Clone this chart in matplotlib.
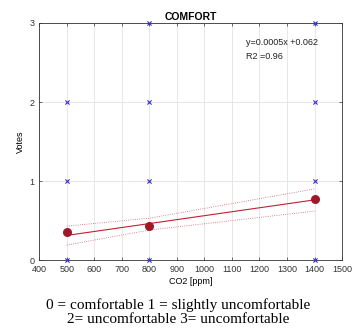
import numpy as np
import matplotlib
matplotlib.use('Agg')
import matplotlib.pyplot as plt

# votes per CO2 level (individual answers)
votes_x = [500, 500, 500, 800, 800, 800, 800, 1400, 1400, 1400, 1400]
votes_y = [0, 1, 2, 0, 1, 2, 3, 0, 1, 2, 3]

# mean votes
co2_levels = [500, 800, 1400]
mean_votes = [0.36, 0.43, 0.77]

# linear fit and confidence bounds
fit_slope = 0.0005
fit_icpt = 0.062
ci_upper = [0.43, 0.53, 0.90]
ci_lower = [0.19, 0.38, 0.62]

x_ticks = list(range(400, 1600, 100))
y_ticks = [0, 1, 2, 3]

plt.rcParams['font.family'] = ['Liberation Sans', 'DejaVu Sans']

fig = plt.figure(figsize=(3.56, 3.28), dpi=100)
ax = fig.add_axes([0.110, 0.207, 0.851, 0.723])

ax.grid(True, color='#e3e3e3', linewidth=0.6)
ax.set_axisbelow(True)

ax.scatter(votes_x, votes_y, marker='x', s=9, color='#3030d0', linewidths=0.8,
           zorder=3, clip_on=False)

fit_x = np.array([co2_levels[0], co2_levels[-1]])
ax.plot(fit_x, fit_slope * fit_x + fit_icpt, color='#c02030', linewidth=0.8, zorder=3)
ax.plot(co2_levels, ci_upper, color='#d06070', linestyle=':', linewidth=0.6, zorder=3)
ax.plot(co2_levels, ci_lower, color='#d06070', linestyle=':', linewidth=0.6, zorder=3)
ax.scatter(co2_levels, mean_votes, s=30, color='#a01828', zorder=4)

ax.set_xlim(400, 1500)
ax.set_ylim(0, 3)
ax.set_xticks(x_ticks)
ax.set_yticks(y_ticks)
ax.tick_params(direction='in', length=2.5, labelsize=6.5, colors='#333333',
               top=True, right=True, width=0.5)
for sp in ax.spines.values():
    sp.set_color('#333333')
    sp.set_linewidth(0.6)

ax.set_title('COMFORT', fontsize=7.5, fontweight='bold', pad=2)
ax.set_xlabel('CO2 [ppm]', fontsize=6.5, labelpad=2)
ax.set_ylabel('Votes', fontsize=6.5, labelpad=3)

ax.text(1150, 2.75, 'y=0.0005x +0.062', fontsize=6.5, color='#222222', va='center')
ax.text(1150, 2.58, 'R2 =0.96', fontsize=6.5, color='#222222', va='center')

fig.text(0.5, 0.071, '0 = comfortable 1 = slightly uncomfortable', ha='center',
         va='center', fontsize=11, family='Liberation Serif')
fig.text(0.5, 0.026, '2= uncomfortable 3= uncomfortable', ha='center',
         va='center', fontsize=11, family='Liberation Serif')

fig.savefig('out.png', dpi=100)
